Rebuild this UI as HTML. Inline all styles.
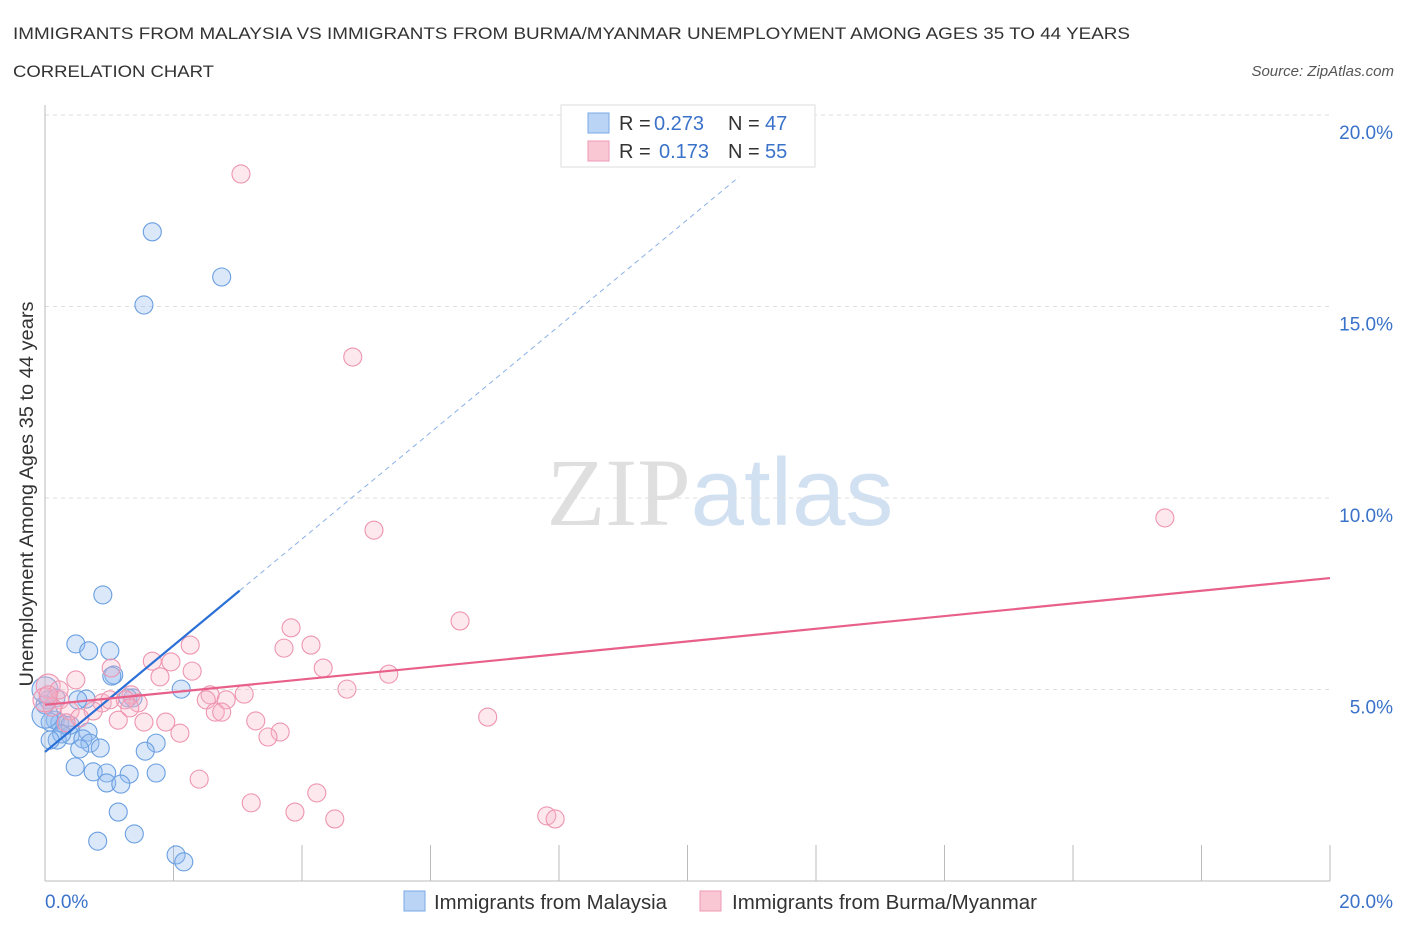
<!DOCTYPE html>
<html><head><meta charset="utf-8"><style>
body{margin:0;background:#fff;width:1406px;height:930px;overflow:hidden;font-family:"Liberation Sans",sans-serif}
</style></head><body>
<svg id="chart" width="1406" height="930" xmlns="http://www.w3.org/2000/svg" font-family="Liberation Sans, sans-serif">
<text x="13" y="39" font-size="17" fill="#333" textLength="1117" lengthAdjust="spacingAndGlyphs">IMMIGRANTS FROM MALAYSIA VS IMMIGRANTS FROM BURMA/MYANMAR UNEMPLOYMENT AMONG AGES 35 TO 44 YEARS</text>
<text x="13" y="77" font-size="17" fill="#333" textLength="201" lengthAdjust="spacingAndGlyphs">CORRELATION CHART</text>
<text x="1394" y="76" font-size="15" fill="#555" text-anchor="end" font-style="italic">Source: ZipAtlas.com</text>
<text x="720" y="525" font-size="96" text-anchor="middle" fill="#ddd" opacity="0.8"><tspan font-family="Liberation Serif, serif" fill="#d8d8d8">ZIP</tspan><tspan fill="#c8daf0">atlas</tspan></text>
<g id="grid"></g><g id="axes"></g><g id="marks"></g><g id="trends"></g>
<text transform="translate(33,494) rotate(-90)" font-size="19" fill="#333" text-anchor="middle" textLength="385" lengthAdjust="spacingAndGlyphs">Unemployment Among Ages 35 to 44 years</text>
<g>
<rect x="561" y="105" width="254" height="62" fill="#fff" stroke="#ddd"/>
<rect x="588" y="113" width="21" height="20" fill="#b9d4f5" stroke="#7aaae6"/>
<rect x="588" y="141" width="21" height="20" fill="#f9c6d4" stroke="#ee9ab3"/>
<text x="619" y="130" font-size="20" fill="#333">R =</text>
<text x="654" y="130" font-size="20" fill="#3a72c9">0.273</text>
<text x="728" y="130" font-size="20" fill="#333">N =</text>
<text x="765" y="130" font-size="20" fill="#3a72c9">47</text>
<text x="619" y="158" font-size="20" fill="#333">R =</text>
<text x="659" y="158" font-size="20" fill="#3a72c9">0.173</text>
<text x="728" y="158" font-size="20" fill="#333">N =</text>
<text x="765" y="158" font-size="20" fill="#3a72c9">55</text>
</g>
<g>
<rect x="404" y="891" width="21" height="20" fill="#b9d4f5" stroke="#7aaae6"/>
<text x="434" y="909" font-size="20" fill="#333" textLength="233" lengthAdjust="spacingAndGlyphs">Immigrants from Malaysia</text>
<rect x="700" y="891" width="21" height="20" fill="#f9c6d4" stroke="#ee9ab3"/>
<text x="732" y="909" font-size="20" fill="#333" textLength="305" lengthAdjust="spacingAndGlyphs">Immigrants from Burma/Myanmar</text>
</g>
</svg>
<script>
const yTicks=[5,10,15,20];
const xTickLabels=["0.0%","20.0%"];
const blueX=[1.67,2.75,1.54,0.90,0.48,0.68,1.01,1.07,1.04,2.12,1.37,0.64,0.17,0.05,0.0,0.16,0.23,0.31,0.08,0.39,0.67,0.59,0.70,0.19,0.86,0.54,1.73,1.56,0.47,0.75,0.96,1.31,1.73,0.96,1.18,1.14,1.39,0.82,2.04,2.16,0.39,0.26,1.29,0.0,0.08,0.0,0.51];
const blueY=[16.95,15.77,15.04,7.47,6.19,6.01,6.01,5.38,5.35,5.01,4.78,4.75,4.78,4.73,4.60,4.20,4.13,4.07,4.15,3.81,3.89,3.71,3.60,3.68,3.47,3.45,3.60,3.39,2.98,2.85,2.82,2.79,2.82,2.56,2.53,1.80,1.23,1.04,0.68,0.50,4.07,3.84,4.78,4.99,3.68,4.33,4.73];
const pinkX=[3.05,4.79,5.12,17.43,6.46,3.83,4.14,3.72,2.26,1.67,1.96,4.33,5.35,2.29,1.03,1.79,0.48,0.05,4.70,2.57,3.10,1.34,2.51,2.82,0.89,1.45,1.14,1.54,1.88,2.10,3.28,3.66,3.47,2.65,2.75,6.89,2.40,3.21,3.89,4.23,4.51,7.81,7.94,0.23,0.39,0.75,0.11,0.54,1.25,0.33,0.0,0.22,0.05,1.32,1.01];
const pinkY=[18.46,13.68,9.16,9.48,6.79,6.61,6.16,6.08,6.16,5.74,5.72,5.56,5.40,5.48,5.56,5.33,5.25,5.09,5.01,4.86,4.88,4.86,4.73,4.73,4.65,4.65,4.20,4.15,4.15,3.86,4.18,3.89,3.76,4.41,4.41,4.28,2.66,2.04,1.80,2.30,1.62,1.70,1.62,4.73,4.44,4.44,4.54,4.26,4.73,4.13,4.73,4.99,4.86,4.52,4.73];
const blueTrend=[3.37,1.39]; const pinkTrend=[4.60,0.1655];
const X=v=>45+v*64.25, Y=v=>881-v*38.3;
const NS="http://www.w3.org/2000/svg";
function mk(tag,attrs,parent){const e=document.createElementNS(NS,tag);for(const k in attrs)e.setAttribute(k,attrs[k]);document.getElementById(parent).appendChild(e);return e;}
yTicks.forEach(t=>{
 const l=mk('line',{x1:45,x2:1330,y1:Y(t),y2:Y(t),stroke:'#ddd','stroke-dasharray':'4,4'},'grid');
 
 
 const tx=mk('text',{x:1393,y:Y(t)+24,'font-size':19,fill:'#3a72c9','text-anchor':'end'},'axes');
 tx.textContent=t.toFixed(1)+'%';
 
 
});
const ax=mk('line',{x1:45,x2:45,y1:105,y2:881,stroke:'#bbb'},'axes');


const bx=mk('line',{x1:45,x2:1330,y1:881,y2:881,stroke:'#bbb'},'axes');


for(let i=1;i<=10;i++){const t=mk('line',{x1:X(i*2),x2:X(i*2),y1:845,y2:881,stroke:'#bbb'},'axes');
 
 }
[[0,'start',45],[20,'end',1393]].forEach((d,i)=>{const t=mk('text',{x:d[2],y:908,'font-size':19,fill:'#3a72c9','text-anchor':d[1]},'axes');t.textContent=xTickLabels[i];
 
 });
blueX.forEach((x,i)=>{const c=mk('circle',{cx:X(x),cy:Y(blueY[i]),r:(i==43||i==45)?13:9,fill:'rgba(150,190,240,0.35)',stroke:'#6a9fe0','stroke-width':1.1},'marks');
 
 });
pinkX.forEach((x,i)=>{const c=mk('circle',{cx:X(x),cy:Y(pinkY[i]),r:(i==50||i==17)?12:9,fill:'rgba(248,180,200,0.3)',stroke:'#ee95b0','stroke-width':1.1},'marks');
 
 });
const b1=mk('line',{x1:X(0),y1:Y(blueTrend[0]),x2:X(3.03),y2:Y(blueTrend[0]+blueTrend[1]*3.03),stroke:'#2a6fd6','stroke-width':2.2},'trends');


const b2=mk('line',{x1:X(3.03),y1:Y(blueTrend[0]+blueTrend[1]*3.03),x2:X(10.8),y2:Y(blueTrend[0]+blueTrend[1]*10.8),stroke:'#8ab0e6','stroke-width':1,'stroke-dasharray':'5,4'},'trends');


const p1=mk('line',{x1:X(0),y1:Y(pinkTrend[0]),x2:X(20),y2:Y(pinkTrend[0]+pinkTrend[1]*20),stroke:'#e8608a','stroke-width':2.2},'trends');


</script>
</body></html>
